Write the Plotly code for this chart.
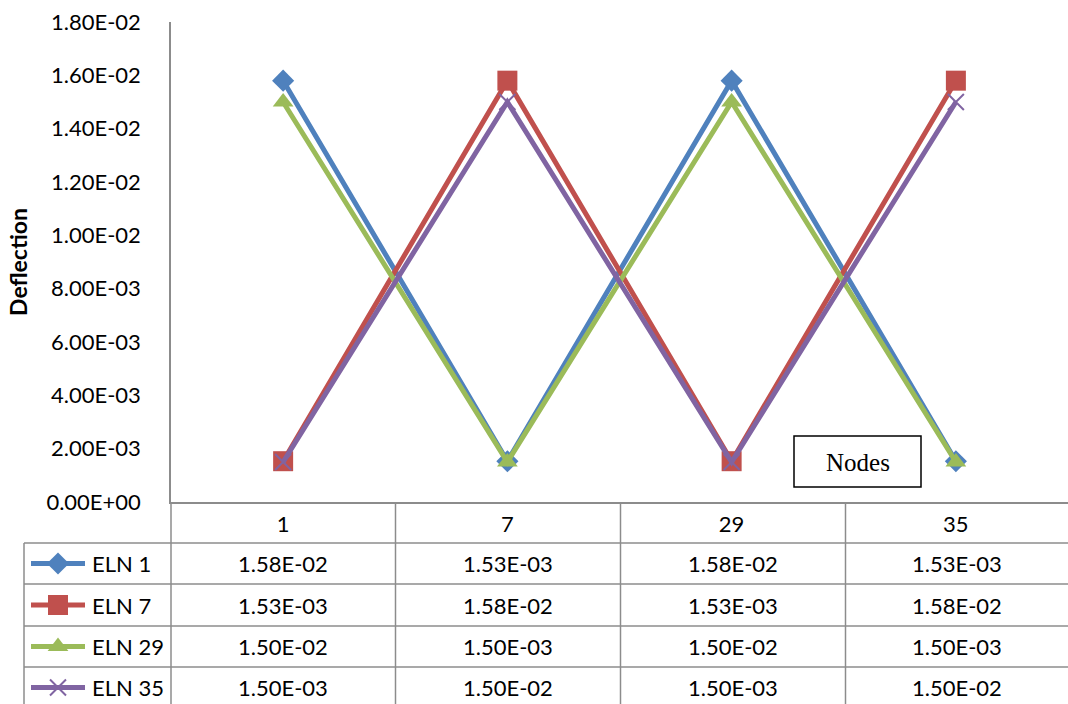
import plotly.graph_objects as go

# ---- data ----
nodes = ["1", "7", "29", "35"]
series_names = ["ELN 1", "ELN 7", "ELN 29", "ELN 35"]
eln_1 = [1.58e-2, 1.53e-3, 1.58e-2, 1.53e-3]
eln_7 = [1.53e-3, 1.58e-2, 1.53e-3, 1.58e-2]
eln_29 = [1.50e-2, 1.50e-3, 1.50e-2, 1.50e-3]
eln_35 = [1.50e-3, 1.50e-2, 1.50e-3, 1.50e-2]
y_ticks = [0.0, 0.002, 0.004, 0.006, 0.008, 0.010, 0.012, 0.014, 0.016, 0.018]

series_values = [eln_1, eln_7, eln_29, eln_35]
colors = ["#4F81BD", "#C0504D", "#9BBB59", "#8064A2"]
symbols = ["diamond", "square", "triangle-up", "x-thin"]
marker_sizes = [17, 20, 18, 16]

W, H = 1068, 704
FONT = "Lato"
FS = 22
GRID = "#8C8C8C"
LW = 5

# layout geometry (pixels)
plot_left, plot_right = 171, 1068
plot_top, plot_bottom = 22, 502
row_lines = [502, 543, 584, 626, 667, 708]
col_lines = [171, 395.5, 620.5, 845.5, 1068]
legend_left = 24

fig = go.Figure()

# main line series
for name, vals, c, s, ms in zip(series_names, series_values, colors, symbols, marker_sizes):
    fig.add_trace(go.Scatter(
        x=nodes, y=vals, name=name, mode="lines+markers",
        line=dict(color=c, width=LW),
        marker=dict(symbol=s, size=ms, color=c, opacity=1,
                    line=dict(color=c, width=2 if s == "x-thin" else 0)),
        cliponaxis=False, showlegend=False,
    ))

# legend keys inside the data table (pixel overlay axes)
row_centers = [(row_lines[i] + row_lines[i + 1]) / 2 for i in range(1, 5)]
for rc, c, s, ms in zip(row_centers, colors, symbols, marker_sizes):
    fig.add_trace(go.Scatter(
        x=[31, 58, 85], y=[rc, rc, rc], mode="lines+markers",
        line=dict(color=c, width=LW),
        marker=dict(symbol=s, size=[0, ms, 0], color=c, opacity=1,
                    line=dict(color=c, width=2 if s == "x-thin" else 0)),
        xaxis="x2", yaxis="y2", cliponaxis=False, showlegend=False,
        hoverinfo="skip",
    ))

shapes = []
# table horizontal lines
for yy in row_lines[1:5]:
    shapes.append(dict(type="line", xref="x2", yref="y2",
                       x0=legend_left, x1=W, y0=yy, y1=yy,
                       line=dict(color=GRID, width=1.5)))
# legend column left edge
shapes.append(dict(type="line", xref="x2", yref="y2",
                   x0=legend_left, x1=legend_left, y0=row_lines[1], y1=H,
                   line=dict(color=GRID, width=1.5)))
# column separators
for xx in col_lines[:4]:
    shapes.append(dict(type="line", xref="x2", yref="y2",
                       x0=xx, x1=xx, y0=row_lines[0], y1=H,
                       line=dict(color=GRID, width=1.5)))
# "Nodes" box
shapes.append(dict(type="rect", xref="x2", yref="y2",
                   x0=794, x1=921, y0=436, y1=487,
                   line=dict(color="#000000", width=1.5), fillcolor="white"))

annotations = []
col_centers = [(col_lines[i] + col_lines[i + 1]) / 2 for i in range(4)]
# table values
for rc, name, vals in zip(row_centers, series_names, series_values):
    annotations.append(dict(xref="x2", yref="y2", x=90, y=rc, text=name,
                            showarrow=False, xanchor="left", yanchor="middle",
                            font=dict(family=FONT, size=FS, color="#000")))
    for cc, v in zip(col_centers, vals):
        annotations.append(dict(xref="x2", yref="y2", x=cc, y=rc, text=f"{v:.2E}",
                                showarrow=False, xanchor="center", yanchor="middle",
                                font=dict(family=FONT, size=FS, color="#000")))
annotations.append(dict(xref="x2", yref="y2", x=857.5, y=462, text="Nodes",
                        showarrow=False, xanchor="center", yanchor="middle",
                        font=dict(family="Liberation Serif", size=25, color="#000")))

fig.update_layout(
    template="none",
    width=W, height=H,
    margin=dict(l=0, r=0, t=0, b=0, pad=0),
    paper_bgcolor="white", plot_bgcolor="rgba(0,0,0,0)",
    font=dict(family=FONT, size=FS, color="#000"),
    xaxis=dict(
        type="category", categoryarray=nodes, range=[-0.5, 3.5],
        domain=[plot_left / W, plot_right / W], anchor="y", automargin=False,
        showline=True, linecolor=GRID, linewidth=1.5, showgrid=False,
        ticks="", tickfont=dict(family=FONT, size=FS), ticklabelstandoff=2,
        zeroline=False,
    ),
    yaxis=dict(
        range=[0, 0.018], domain=[(H - plot_bottom) / H, (H - plot_top) / H],
        anchor="x", automargin=False,
        tickvals=y_ticks, ticktext=[f"{v:.2E}" for v in y_ticks],
        showline=True, linecolor=GRID, linewidth=1.5, showgrid=False,
        ticks="", zeroline=False, tickfont=dict(family=FONT, size=FS),
        ticklabelstandoff=24,
        title=dict(text="<b>Deflection</b>", font=dict(family=FONT, size=23),
                   standoff=12),
    ),
    xaxis2=dict(range=[0, W], domain=[0, 1], anchor="y2", visible=False,
                fixedrange=True, automargin=False),
    yaxis2=dict(range=[H, 0], domain=[0, 1], anchor="x2", visible=False,
                fixedrange=True, automargin=False),
    shapes=shapes, annotations=annotations,
)

fig.write_html("out.html")
